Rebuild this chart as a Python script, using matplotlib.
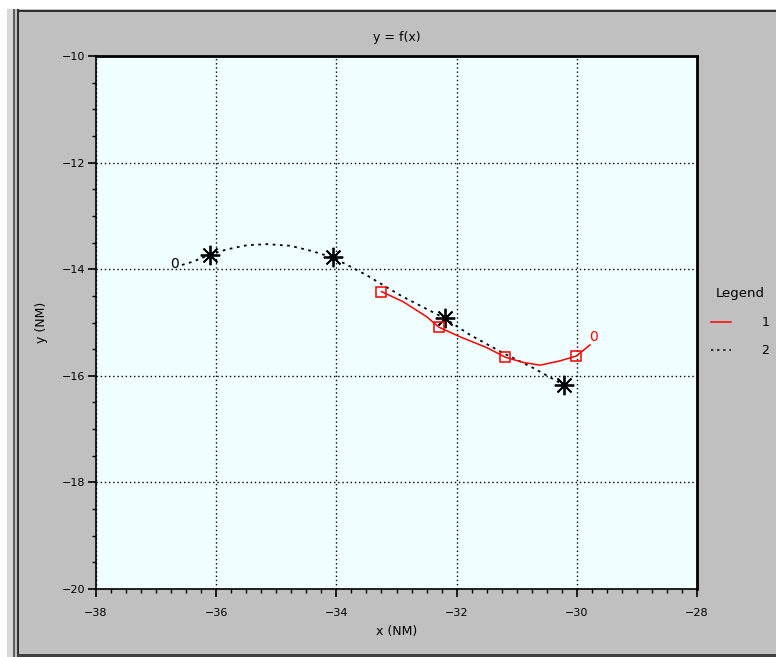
import matplotlib
matplotlib.use("Agg")
import matplotlib.pyplot as plt
from matplotlib.lines import Line2D
from matplotlib.patches import Rectangle
from matplotlib.ticker import MultipleLocator

# series 1 (red, solid) - curve, markers at sample points
s1_x = [-33.25, -32.89, -32.50, -32.29, -31.94, -31.50, -31.19, -30.89, -30.61, -30.28, -30.01, -29.78]
s1_y = [-14.42, -14.61, -14.89, -15.09, -15.27, -15.47, -15.65, -15.75, -15.80, -15.72, -15.63, -15.42]
s1_mark_x = [-33.25, -32.29, -31.19, -30.01]
s1_mark_y = [-14.42, -15.09, -15.65, -15.63]

# series 2 (black, dotted)
s2_x = [-36.57, -36.39, -36.11, -35.83, -35.49, -35.16, -34.77, -34.44, -34.06, -33.77,
        -33.50, -33.22, -32.89, -32.56, -32.20, -31.78, -31.23, -30.73, -30.22]
s2_y = [-13.92, -13.86, -13.73, -13.63, -13.55, -13.53, -13.56, -13.65, -13.78, -13.95,
        -14.11, -14.30, -14.52, -14.71, -14.92, -15.23, -15.57, -15.85, -16.17]
s2_mark_x = [-36.11, -34.06, -32.20, -30.22]
s2_mark_y = [-13.73, -13.78, -14.92, -16.17]

x_lim = (-38, -28)
y_lim = (-20, -10)

W, H = 776, 657
BG = "#c0c0c0"

fig = plt.figure(figsize=(W / 100, H / 100), dpi=100, facecolor=BG)


def px_rect(x0, y0, x1, y1, color):
    # rectangle in pixel coords (top-left origin)
    fig.add_artist(Rectangle((x0 / W, 1 - y1 / H), (x1 - x0) / W, (y1 - y0) / H,
                             transform=fig.transFigure, facecolor=color,
                             edgecolor="none", zorder=0))


# window frame
px_rect(0, 0, 7, H, "white")
px_rect(0, 0, W, 9, "white")
px_rect(7, 9, 13, H, "#d8d8d8")
px_rect(13, 9, 15, H, "#606060")
px_rect(17, 9, 18.5, H, "#303030")
px_rect(17, 10, W, 12, "#303030")
px_rect(17, 654, W, H, "#404040")

ax = fig.add_axes([96 / W, 1 - 589 / H, 601 / W, 533 / H])
ax.set_facecolor("#f0ffff")

ax.plot(s2_x, s2_y, color="black", lw=1.3, ls=(0, (1.5, 2.5)), zorder=3)
ax.plot(s2_mark_x, s2_mark_y, ls="none", marker=(8, 2, 0), ms=14, mew=1.3,
        color="black", zorder=4)
ax.plot(s1_x, s1_y, color="red", lw=1.1, zorder=3)
ax.plot(s1_mark_x, s1_mark_y, ls="none", marker="s", ms=7, mew=1.1,
        mfc="none", mec="red", zorder=4)

ax.text(s2_x[0] - 0.05, s2_y[0] + 0.02, "0", ha="right", va="center", fontsize=10, color="black")
ax.text(s1_x[-1] + 0.05, s1_y[-1] + 0.15, "0", ha="center", va="center", fontsize=10, color="red")

ax.set_xlim(*x_lim)
ax.set_ylim(*y_lim)
ax.xaxis.set_major_locator(MultipleLocator(2))
ax.xaxis.set_minor_locator(MultipleLocator(0.25))
ax.yaxis.set_major_locator(MultipleLocator(2))
ax.yaxis.set_minor_locator(MultipleLocator(0.5))
ax.tick_params(which="major", direction="out", length=6, width=1.2, labelsize=8)
ax.tick_params(axis="x", which="major", pad=8)
ax.tick_params(axis="y", which="major", pad=2)
ax.tick_params(which="minor", direction="out", length=3, width=1)
ax.grid(True, which="major", color="black", ls=(0, (1, 2)), lw=1)
for sp in ax.spines.values():
    sp.set_linewidth(1.2)
ax.spines["top"].set_linewidth(2)
ax.spines["right"].set_linewidth(2)

ax.set_title("y = f(x)", fontsize=9, pad=11)
ax.set_xlabel("x (NM)", fontsize=9, labelpad=5)
ax.set_ylabel("y (NM)", fontsize=9, labelpad=10)

handles = [Line2D([], [], color="red", lw=1.1),
           Line2D([], [], color="black", lw=1.1, ls=(0, (1.5, 2.5)))]
fig.legend(handles=handles, labels=["1", "2"], title="Legend",
           loc="upper left", bbox_to_anchor=(700 / W, 1 - 276 / H),
           frameon=False, fontsize=9, title_fontsize=9.5,
           handlelength=1.6, handletextpad=2.4, labelspacing=1.25)

fig.savefig("out.png", dpi=100, facecolor=BG)
